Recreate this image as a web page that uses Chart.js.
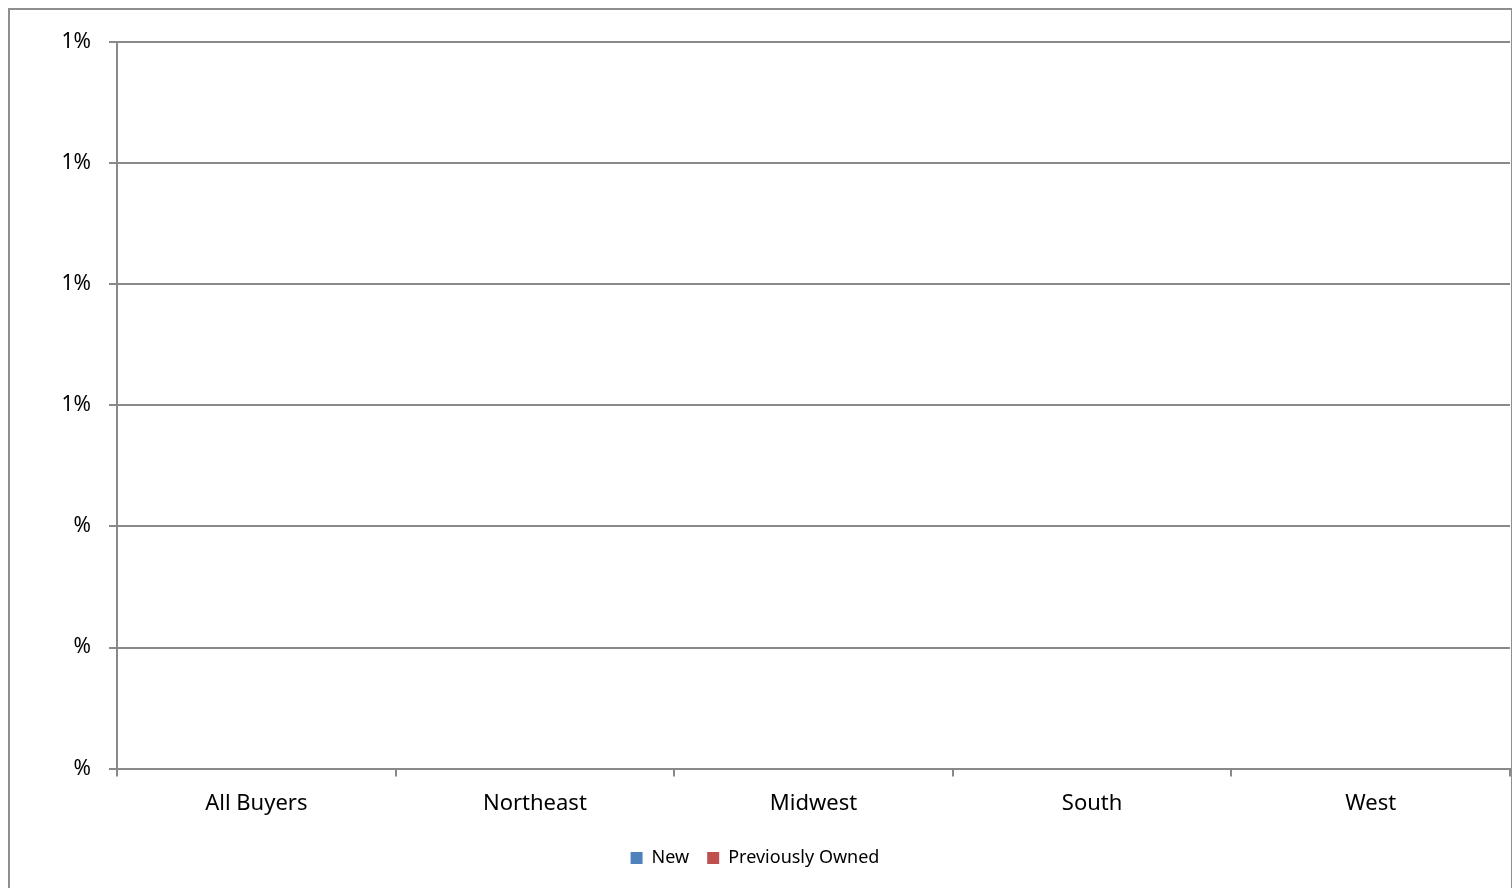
<!DOCTYPE html>
<html>
<head>
<meta charset="utf-8">
<script src="https://cdn.jsdelivr.net/npm/chart.js@4"></script>
<style>
  body { margin: 0; background: #fff; overflow: hidden; }
  #frame { position: absolute; left: 8px; top: 8px; width: 1501px; height: 920px; border: 2px solid #8e8e8e; }
  #wrap { position: absolute; left: 0; top: 0; width: 1512px; height: 877px; }
</style>
</head>
<body>
<div id="frame"></div>
<div id="wrap"><canvas id="chart"></canvas></div>
<script>
// regions on the x axis
var regions = ["All Buyers", "Northeast", "Midwest", "South", "West"];
// both series are empty in the source chart
var newHomes = [0, 0, 0, 0, 0];
var prevOwned = [0, 0, 0, 0, 0];
// y axis runs 0 .. 1.2% in steps of 0.2%
var yMin = 0, yMax = 0.012, yStep = 0.002;

var axisColor = "#898989";
var textColor = "#000";
var font = "'Noto Sans'";

// excel "#%" format: zero digits are dropped
function excelPct(v) {
  var n = Math.round(v * 100);
  return n === 0 ? "%" : n + "%";
}

new Chart(document.getElementById("chart"), {
  type: 'bar',
  data: {
    labels: regions,
    datasets: [{
        label: "New",
        data: newHomes,
        backgroundColor: "#4f81bd"
      }, {
        label: "Previously Owned",
        data: prevOwned,
        backgroundColor: "#c0504d"
      }
    ]
  },
  options: {
    responsive: true,
    maintainAspectRatio: false,
    animation: false,
    layout: { padding: { left: 0, top: 42, right: 2, bottom: 0 } },
    plugins: {
      tooltip: { enabled: false },
      legend: {
        position: 'bottom',
        labels: {
          color: textColor,
          font: { family: font, size: 18 },
          boxWidth: 12,
          boxHeight: 12,
          padding: 18
        }
      }
    },
    scales: {
      x: {
        grid: { drawOnChartArea: false, color: axisColor, lineWidth: 2, tickLength: 8, offset: true },
        border: { color: axisColor, width: 2 },
        ticks: { color: textColor, font: { family: font, size: 22 }, padding: 14 }
      },
      y: {
        min: yMin,
        max: yMax,
        grid: { color: axisColor, lineWidth: 2, tickLength: 8 },
        border: { color: axisColor, width: 2 },
        ticks: {
          stepSize: yStep,
          color: textColor,
          font: { family: font, size: 21 },
          padding: 18,
          callback: excelPct
        },
        afterFit: function(scale) { scale.width = 117; }
      }
    }
  }
});
</script>
</body>
</html>
